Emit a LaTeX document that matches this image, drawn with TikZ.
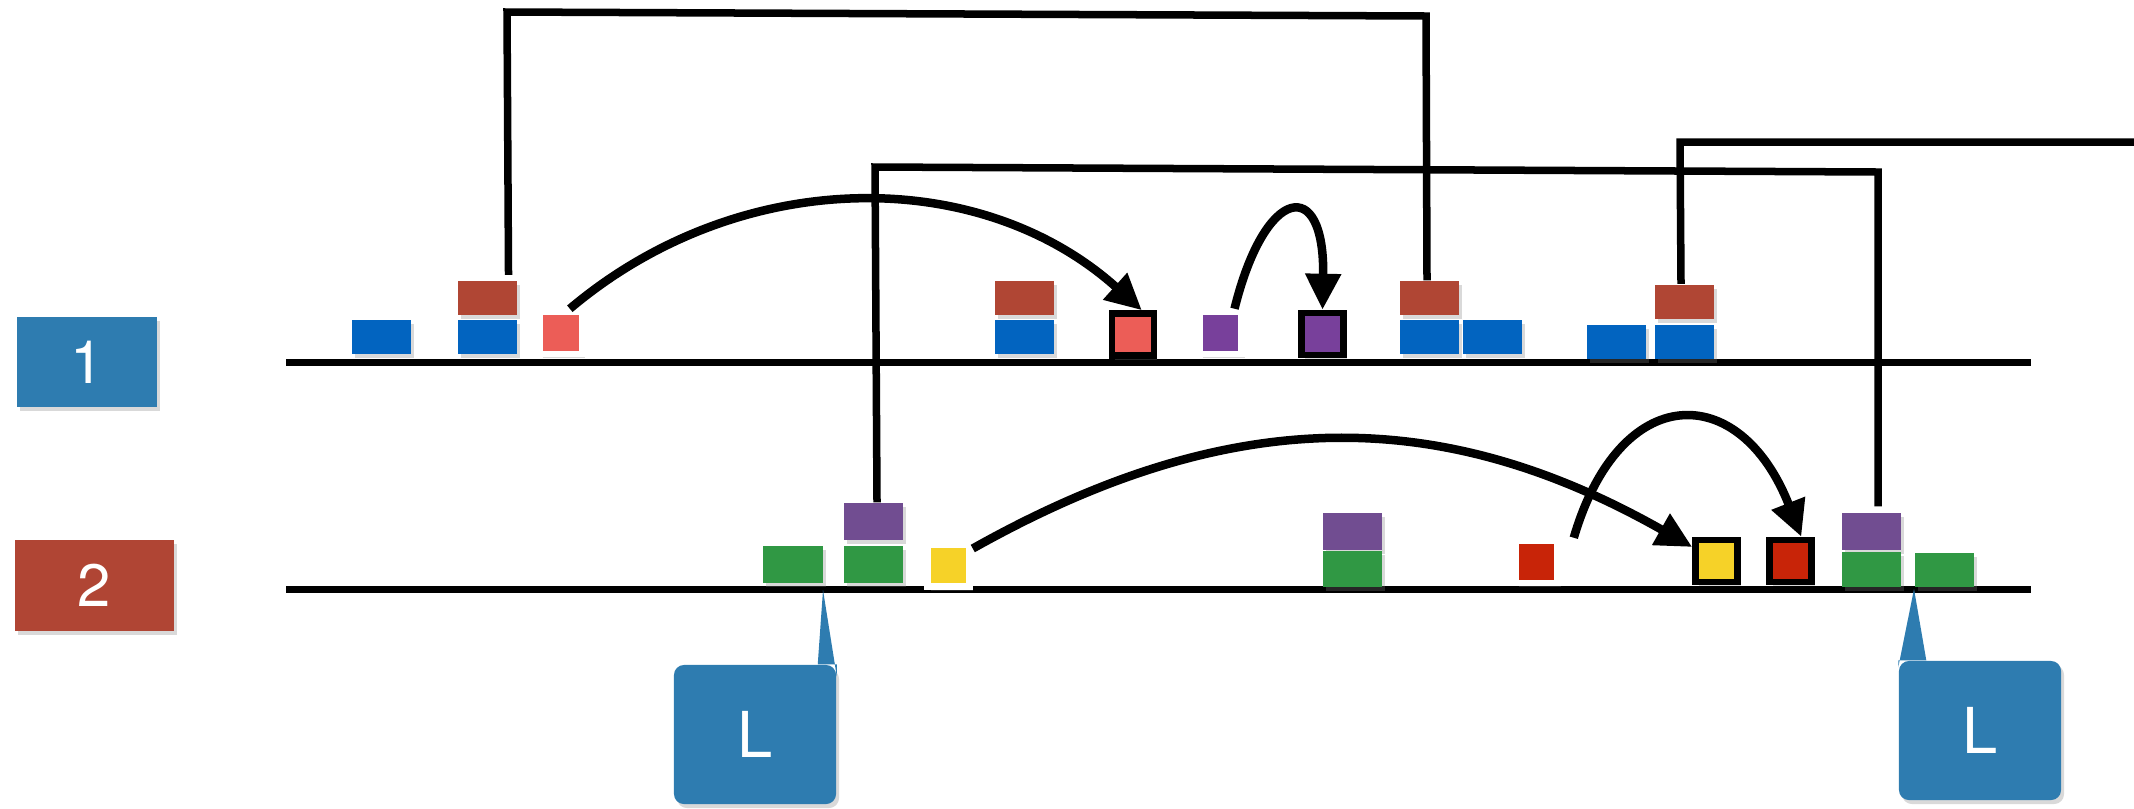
\documentclass[tikz,border=0pt]{standalone}
\usepackage{fontspec}
\setmainfont{TeX Gyre Heros}
\usepackage{tikz}
\usetikzlibrary{
  arrows.meta,
  calc,
  shadows,
  positioning
}
\definecolor{laneblue}{RGB}{46,124,176}
\definecolor{lanered}{RGB}{176,69,52}
\definecolor{blkblue}{RGB}{2,100,192}
\definecolor{blkbrown}{RGB}{176,70,52}
\definecolor{blksalmon}{RGB}{236,93,87}
\definecolor{blkpurple}{RGB}{120,64,155}
\definecolor{blkplum}{RGB}{113,77,145}
\definecolor{blkgreen}{RGB}{48,152,68}
\definecolor{blkyellow}{RGB}{246,210,40}
\definecolor{blkred}{RGB}{200,36,8}
\tikzset{>={Triangle[length=0.36cm,width=0.34cm]}}
\tikzset{
  soft/.style={drop shadow={shadow xshift=0.03cm,shadow yshift=-0.04cm,opacity=0.3}},
  lane/.style={line width=0.07cm},
  lbl/.style={soft,text=white,inner sep=0,font=\fontsize{17}{20}\selectfont},
  blk/.style={soft,minimum width=0.59cm,minimum height=0.34cm,inner sep=0},
  sq/.style={soft,minimum size=0.42cm,inner sep=0,line width=0.065cm},
  tag/.style={soft,fill=laneblue,text=white,rounded corners=0.1cm,
    minimum width=1.62cm,minimum height=1.39cm,inner sep=0,
    font=\fontsize{18}{21}\selectfont},
  link/.style={line width=0.075cm},
  jump/.style={->,line width=0.085cm}
}

\begin{document}
\begin{tikzpicture}[x=0.01cm,y=-0.01cm]
\useasboundingbox (0,0) rectangle (2134,808);
\node[lbl,fill=laneblue,minimum width=1.40cm,minimum height=0.90cm] (n1) at (87,362) {1};
\node[lbl,fill=lanered,minimum width=1.59cm,minimum height=0.91cm] (n2) at (94.5,585.5) {2};
\draw[lane] (286,362) coordinate (w1) -- (2031,362) coordinate (e1);
\draw[lane] (286,589) coordinate (w2) -- (2031,589) coordinate (e2);
% lane 1
\node[blk,fill=blkblue] (b1) at (381.5,337) {};
\node[blk,fill=blkbrown] (r1) at (487.5,297.5) {};
\node[blk,fill=blkblue] (b2) at (487.5,337) {};
\node[sq,fill=blksalmon,draw=white] (s1) at (561,333) {};
\node[blk,fill=blkbrown] (r2) at (1024.5,297.5) {};
\node[blk,fill=blkblue] (b3) at (1024.5,337) {};
\node[sq,fill=blksalmon,draw=black] (s2) at (1133,334.5) {};
\node[sq,fill=blkpurple,draw=white] (p1) at (1220.5,333) {};
\node[sq,fill=blkpurple,draw=black] (p2) at (1322.5,334) {};
\node[blk,fill=blkbrown] (r3) at (1429.5,298) {};
\node[blk,fill=blkblue] (b4) at (1429.5,337) {};
\node[blk,fill=blkblue] (b5) at (1492.5,337) {};
\node[blk,fill=blkblue] (b6) at (1616.5,342) {};
\node[blk,fill=blkbrown] (r4) at (1684.5,301.5) {};
\node[blk,fill=blkblue] (b7) at (1684.5,342) {};
% lane 2
\node[blk,fill=blkgreen,minimum height=0.37cm] (g1) at (793,564.5) {};
\node[blk,fill=blkplum,minimum height=0.37cm] (p3) at (873.5,521.5) {};
\node[blk,fill=blkgreen,minimum height=0.37cm] (g2) at (873.5,564.5) {};
\node[sq,fill=blkyellow,draw=white] (y1) at (948.5,565.5) {};
\node[blk,fill=blkplum,minimum height=0.37cm] (p4) at (1352,531.5) {};
\node[blk,fill=blkgreen,minimum height=0.36cm] (g3) at (1352,569) {};
\node[sq,fill=blkred,draw=white] (d1) at (1536.5,562) {};
\node[sq,fill=blkyellow,draw=black] (y2) at (1716.5,561) {};
\node[sq,fill=blkred,draw=black] (d2) at (1790.5,561) {};
\node[blk,fill=blkplum,minimum height=0.37cm] (p5) at (1871.5,531.5) {};
\node[blk,fill=blkgreen,minimum height=0.35cm] (g4) at (1871.5,569.5) {};
\node[blk,fill=blkgreen,minimum height=0.34cm] (g5) at (1944,570) {};
% callouts
\coordinate (tip1) at (823,590);
\coordinate (tip2) at (1914,589);
\node[tag] (t1) at (755,734.5) {L};
\fill[laneblue] ([xshift=-0.19cm]t1.north east) -- (tip1) -- ([yshift=-0.12cm]t1.north east) -- (t1.north east) -- cycle;
\node[tag] (t2) at (1980,730.5) {L};
\fill[laneblue] ([yshift=-0.07cm]t2.north west) -- (tip2) -- ([xshift=0.28cm]t2.north west) -- (t2.north west) -- cycle;
% links
\coordinate (east) at (2134,142);
\draw[link] ([xshift=0.21cm,yshift=0.05cm]r1.north) -- (507,12) -- (1426,16) -- ([xshift=-0.025cm]r3.north);
\draw[link] ([xshift=0.035cm]p3.north) -- (875,167) -- (1878,172) -- ([xshift=0.065cm,yshift=0.06cm]p5.north);
\draw[link] ([xshift=-0.035cm]r4.north) -- (1680,142) -- (east);
% jumps
\draw[jump] (s1.70) .. controls (740,165) and (980,165) .. (s2.70);
\draw[jump] (p1.60) .. controls (1265,185) and (1325,175) .. (p2.north);
\draw[jump] (y1.35) .. controls (1230,404) and (1440,404) .. (y2.150);
\draw[jump] ([xshift=0.13cm]d1.north east) .. controls (1620,380) and (1740,380) .. (d2.66);
\end{tikzpicture}
\end{document}
